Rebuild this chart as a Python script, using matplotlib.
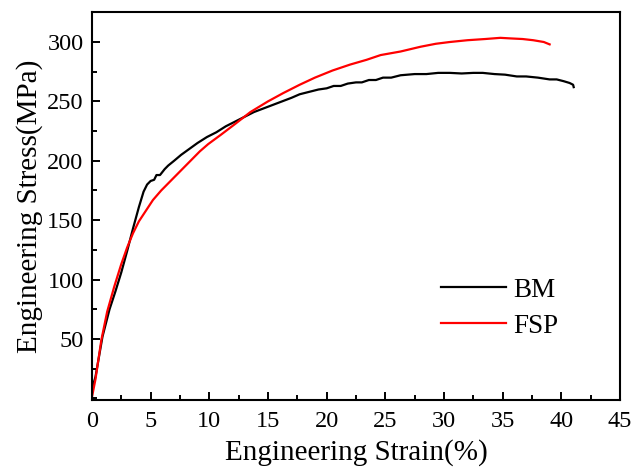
import numpy as np
import matplotlib
matplotlib.use("Agg")
import matplotlib.pyplot as plt
from matplotlib.ticker import MultipleLocator

plt.rcParams['font.family'] = ['Liberation Serif', 'DejaVu Serif']

# tensile curves: base metal (BM) and friction stir processed (FSP)
bm_strain = [0.0, 0.3, 0.9, 1.5, 2.0, 2.5, 3.0, 3.5, 4.0, 4.4, 4.7, 5.0, 5.3, 5.5,
             5.8, 6.2, 6.5, 7.0, 7.6, 8.3, 9.0, 9.8, 10.6, 11.4, 12.2, 13.0, 13.8,
             14.6, 15.4, 16.2, 17.0, 17.7, 18.5, 19.3, 20.0, 20.6, 21.2, 21.8, 22.5,
             23.0, 23.6, 24.2, 24.8, 25.5, 26.3, 27.5, 28.5, 29.5, 30.5, 31.5, 32.5,
             33.3, 34.3, 35.2, 36.2, 37.0, 38.0, 39.0, 39.6, 40.2, 40.7, 41.0, 41.05]
bm_stress = [8, 18, 52, 75, 90, 106, 124, 143, 161, 174, 180, 183, 184, 188,
             188, 193, 196, 200, 205, 210, 215, 220, 224, 229, 233, 237, 241,
             244, 247, 250, 253, 256, 258, 260, 261, 263, 263, 265, 266,
             266, 268, 268, 270, 270, 272, 273, 273, 274, 274, 273.5, 274,
             274, 273, 272.5, 271, 271, 270, 268.5, 268.5, 267, 265.5, 264, 262]

fsp_strain = [0.0, 0.3, 0.8, 1.3, 1.9, 2.5, 3.0, 3.5, 4.0, 4.6, 5.2, 5.9, 6.7, 7.6,
              8.5, 9.2, 9.9, 11.0, 12.2, 13.5, 15.0, 16.3, 17.7, 19.0, 20.5, 22.0,
              23.4, 24.6, 26.3, 28.0, 29.3, 30.5, 32.0, 33.5, 34.8, 35.7, 36.7,
              37.6, 38.5, 39.0]
fsp_stress = [1, 16, 49, 73, 94, 113, 127, 139, 149, 158, 167, 175, 183, 192,
              201, 208, 214, 222, 231, 241, 250, 257, 264, 270, 276, 281,
              285, 289, 292, 296, 298.5, 300, 301.5, 302.5, 303.5, 303, 302.5,
              301.5, 300, 298]

fig = plt.figure(figsize=(6.34, 4.73), dpi=100)
ax = fig.add_axes([0.145, 0.154, 0.833, 0.820])

ax.plot(bm_strain, bm_stress, color='black', lw=1.6, label='BM')
ax.plot(fsp_strain, fsp_stress, color='red', lw=1.6, label='FSP')

ax.set_xlim(0, 45)
ax.set_ylim(-1.5, 325)
ax.set_xticks(np.arange(0, 46, 5))
ax.set_yticks(np.arange(50, 301, 50))
ax.xaxis.set_minor_locator(MultipleLocator(2.5))
ax.yaxis.set_minor_locator(MultipleLocator(25))

ax.tick_params(which='both', direction='in', top=False, right=False, width=1.4)
ax.tick_params(which='major', length=6, labelsize=17.5)
ax.tick_params(which='minor', length=3.5)
ax.tick_params(axis='x', which='major', pad=8)
ax.tick_params(axis='y', which='major', pad=6)
for sp in ax.spines.values():
    sp.set_linewidth(1.5)

ax.set_xlabel('Engineering Strain(%)', fontsize=21, labelpad=5)
ax.set_ylabel('Engineering Stress(MPa)', fontsize=21, labelpad=3)

ax.legend(loc='center left', bbox_to_anchor=(0.615, 0.237), frameon=False,
          fontsize=19.5, handlelength=2.4, handletextpad=0.25, labelspacing=0.42)

fig.savefig('out.png', dpi=100)
